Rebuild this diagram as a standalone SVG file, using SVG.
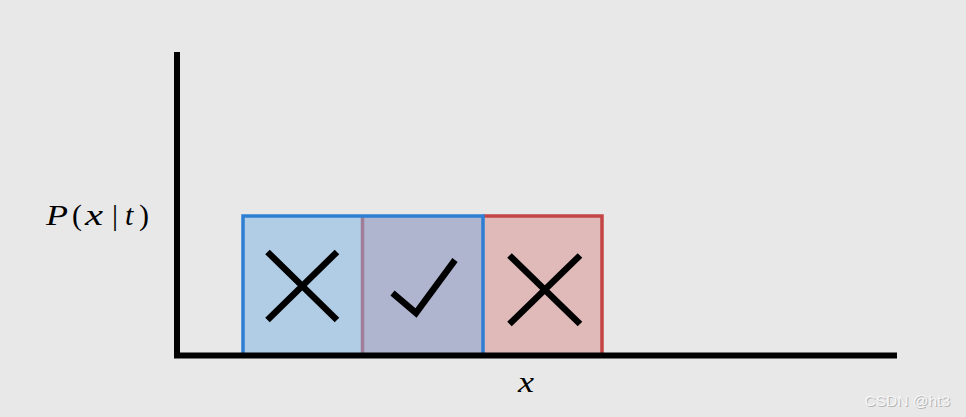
<svg xmlns="http://www.w3.org/2000/svg" width="966" height="417" viewBox="0 0 966 417">
<style>
.math{font-family:"Liberation Serif","DejaVu Serif",serif;font-size:30px;fill:#000}
.it{font-style:italic}
.mark{fill:none;stroke:#000;stroke-width:6.5;stroke-linecap:butt;stroke-linejoin:miter}
.axis{stroke:#000;stroke-width:6;fill:none}
.wm{font-family:"Liberation Sans","DejaVu Sans",sans-serif;font-size:15.5px}
</style>
<rect width="966" height="417" fill="#e8e8e8"/>
<g id="red-region">
<rect x="362.5" y="216" width="239.5" height="139" fill="#e0b9b9"/>
</g>
<g id="blue-region">
<rect x="243" y="216" width="240" height="139" fill="#b1cde6"/>
<rect x="362.5" y="216" width="120.5" height="139" fill="#afb4cf"/>
</g>
<g id="outlines">
<polyline points="483,216 602,216 602,355" fill="none" stroke="#c44545" stroke-width="3.5"/>
<line x1="362.5" y1="216" x2="362.5" y2="355" stroke="#a07e98" stroke-width="3.5"/>
<polyline points="243,355 243,216 483,216 483,355" fill="none" stroke="#2e7fd4" stroke-width="3.5"/>
</g>
<g id="axes">
<line class="axis" x1="177" y1="52" x2="177" y2="358"/>
<line class="axis" x1="174" y1="355.5" x2="897" y2="355.5"/>
</g>
<g id="marks">
<path class="mark" d="M267.5,252 L337,320 M337,252 L267.5,320"/>
<path class="mark" d="M392.5,293 L416,313 L455,260"/>
<path class="mark" d="M509.5,255.5 L580,324 M580,255.5 L509.5,324"/>
</g>
<g id="labels">
<text class="math" y="225"><tspan class="it" x="46" textLength="22" lengthAdjust="spacingAndGlyphs">P</tspan><tspan x="72">(</tspan><tspan class="it" x="85" textLength="18" lengthAdjust="spacingAndGlyphs">x</tspan><tspan x="112">|</tspan><tspan class="it" x="125">t</tspan><tspan x="139">)</tspan></text>
<text class="math it" x="518" y="392" textLength="16" lengthAdjust="spacingAndGlyphs">x</text>
</g>
<g id="watermark">
<text class="wm" x="865.5" y="406.5" fill="#b4b4b4">CSDN @ht3</text>
<text class="wm" x="864.5" y="405.5" fill="#f6f6f6">CSDN @ht3</text>
</g>
</svg>
